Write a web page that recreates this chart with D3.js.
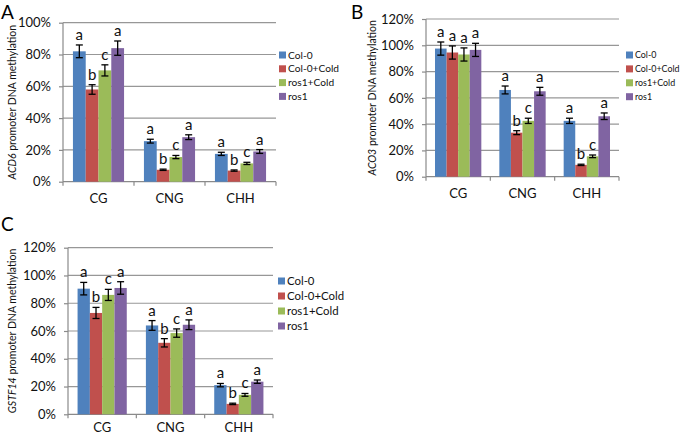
<!DOCTYPE html>
<html><head><meta charset="utf-8">
<script src="https://cdn.jsdelivr.net/npm/d3@7"></script>
<style>body{margin:0;background:#fff}svg{display:block}text{font-family:Lato,"Open Sans",sans-serif}</style>
</head><body><svg id="c" width="685" height="436"></svg>
<script>
const categories = ["CG", "CNG", "CHH"];
const series = ["Col-0", "Col-0+Cold", "ros1+Cold", "ros1"];
const colors = ["#4F81BD", "#C0504D", "#9BBB59", "#8064A2"];
const letters = ["a", "b", "c", "a"];
const lettersB_CG = ["a", "a", "a", "a"];

// Panel A: ACD6
const acd6Values = [[82, 58, 70, 84], [25.5, 7.5, 15.5, 28], [17.5, 7, 11.5, 19]];
const acd6Errors = [[4, 3, 3.5, 4.5], [1.2, 0.4, 1, 1.5], [1, 0.4, 0.7, 1.2]];
const acd6Ticks = [0, 20, 40, 60, 80, 100];
// Panel B: ACO3
const aco3Values = [[97.5, 94.5, 93, 96.5], [66, 33.5, 42.5, 65], [42.5, 9, 15.5, 46]];
const aco3Errors = [[5, 5, 5, 5], [3, 1.5, 2, 3], [2, 0.5, 1, 2.5]];
const aco3Ticks = [0, 20, 40, 60, 80, 100, 120];
// Panel C: GSTF14
const gstf14Values = [[90.5, 73, 86, 91], [64, 51.5, 58.5, 64.5], [21, 7.5, 14, 23.5]];
const gstf14Errors = [[4.5, 4, 4, 4.5], [3.5, 3, 3, 3.5], [1.2, 0.5, 1, 1.2]];
const gstf14Ticks = [0, 20, 40, 60, 80, 100, 120];

const panels = [
  {label: "A", gene: "ACD6", values: acd6Values, errors: acd6Errors, ticks: acd6Ticks,
   x0: 63, x1: 276, yTop: 22.7, yBot: 181.7, lx: 279, ly: 55, lfs: 10.2, lgap: 13.8, catY: 21,
   labX: 1, labY: 19, titleX: 12, cgLetters: letters},
  {label: "B", gene: "ACO3", values: aco3Values, errors: aco3Errors, ticks: aco3Ticks,
   x0: 426, x1: 619, yTop: 19, yBot: 176.7, lx: 626, ly: 55, lfs: 8.9, lgap: 13.9, catY: 21,
   labX: 351, labY: 19, titleX: 372, cgLetters: lettersB_CG},
  {label: "C", gene: "GSTF14", values: gstf14Values, errors: gstf14Errors, ticks: gstf14Ticks,
   x0: 68, x1: 273, yTop: 247.7, yBot: 414.3, lx: 278, ly: 281, lfs: 11.4, lgap: 15, catY: 18,
   labX: 1, labY: 231, titleX: 12, cgLetters: letters}
];

const svg = d3.select("#c");

panels.forEach(p => {
  const g = svg.append("g");
  const maxV = d3.max(p.ticks);
  const y = d3.scaleLinear().domain([0, maxV]).range([p.yBot, p.yTop]);
  const x = d3.scaleBand().domain(categories).range([p.x0, p.x1]).paddingInner(0.28).paddingOuter(0.14);
  const xs = d3.scaleBand().domain(series).range([0, x.bandwidth()]);

  // gridlines
  g.append("g").selectAll("line").data(p.ticks.filter(t => t > 0)).join("line")
    .attr("x1", p.x0).attr("x2", p.x1).attr("y1", d => y(d)).attr("y2", d => y(d))
    .attr("stroke", "#979797").attr("stroke-width", 1.2);

  // y axis
  const ya = g.append("g").attr("transform", `translate(${p.x0},0)`)
    .call(d3.axisLeft(y).tickValues(p.ticks).tickFormat(d => d + "%").tickSize(4).tickPadding(8));
  ya.selectAll("path,line").attr("stroke", "#8a8a8a").attr("stroke-width", 1.2);
  ya.select(".domain").attr("d", `M0,${p.yTop}V${p.yBot}`);
  ya.selectAll("text").attr("font-size", 13).attr("fill", "#111").attr("font-family", "Lato");

  // x axis
  const xa = g.append("g").attr("transform", `translate(0,${p.yBot})`);
  xa.append("line").attr("x1", p.x0).attr("x2", p.x1).attr("stroke", "#8a8a8a").attr("stroke-width", 1.2);
  const step = x.step();
  xa.selectAll("line.tk").data(d3.range(categories.length + 1)).join("line").attr("class", "tk")
    .attr("x1", i => p.x0 + i * step).attr("x2", i => p.x0 + i * step).attr("y1", 0).attr("y2", 4)
    .attr("stroke", "#8a8a8a").attr("stroke-width", 1.2);
  xa.selectAll("text").data(categories).join("text")
    .attr("x", d => x(d) + x.bandwidth() / 2).attr("y", p.catY).attr("text-anchor", "middle")
    .attr("font-size", 13).attr("fill", "#111").text(d => d);

  // bars
  categories.forEach((c, ci) => {
    const cg = g.append("g").attr("transform", `translate(${x(c)},0)`);
    series.forEach((s, si) => {
      const v = p.values[ci][si], e = p.errors[ci][si];
      const bx = xs(s), bw = xs.bandwidth(), cx = bx + bw / 2;
      cg.append("rect").attr("x", bx).attr("y", y(v)).attr("width", bw).attr("height", p.yBot - y(v))
        .attr("fill", colors[si]);
      cg.append("line").attr("x1", cx).attr("x2", cx).attr("y1", y(v + e)).attr("y2", y(v - e))
        .attr("stroke", "#000").attr("stroke-width", 1.3);
      [v + e, v - e].forEach(t => cg.append("line").attr("x1", cx - 3.5).attr("x2", cx + 3.5)
        .attr("y1", y(t)).attr("y2", y(t)).attr("stroke", "#000").attr("stroke-width", 1.3));
      const lt = ci === 0 ? p.cgLetters[si] : letters[si];
      cg.append("text").attr("x", cx).attr("y", y(v + e) - 5).attr("text-anchor", "middle")
        .attr("font-size", 15).attr("fill", "#111").text(lt);
    });
  });

  // y title
  const midY = (p.yTop + p.yBot) / 2;
  const tt = g.append("text").attr("transform", `translate(${p.titleX},${midY}) rotate(-90)`)
    .attr("text-anchor", "middle").attr("dy", "0.35em").attr("font-size", 10.5).attr("fill", "#111");
  tt.append("tspan").attr("font-style", "italic").text(p.gene);
  tt.append("tspan").text(" promoter DNA methylation");

  // legend
  const lg = g.append("g").attr("transform", `translate(${p.lx},${p.ly})`);
  series.forEach((s, si) => {
    lg.append("rect").attr("x", 0).attr("y", si * p.lgap - 3.5).attr("width", 7).attr("height", 7).attr("fill", colors[si]);
    lg.append("text").attr("x", 9).attr("y", si * p.lgap).attr("dy", "0.35em").attr("font-size", p.lfs)
      .attr("fill", "#111").text(s);
  });

  // panel label
  g.append("text").attr("x", p.labX).attr("y", p.labY).attr("font-size", 19).attr("fill", "#000").text(p.label);
});
</script></body></html>
